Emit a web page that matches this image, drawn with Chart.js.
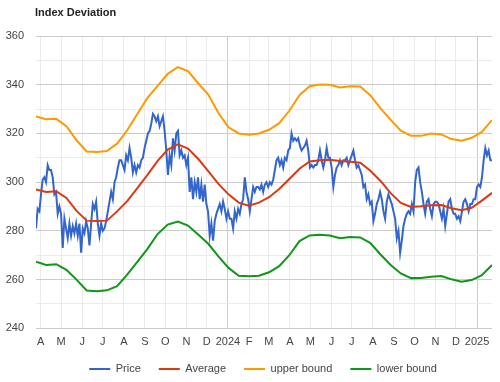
<!DOCTYPE html>
<html><head><meta charset="utf-8">
<script src="https://cdn.jsdelivr.net/npm/chart.js@4.4.1/dist/chart.umd.min.js"></script>
<style>html,body{margin:0;padding:0;background:#fff}canvas{display:block}</style>
</head><body>
<canvas id="c" width="500" height="382"></canvas>
<script>
const chartTitle = 'Index Deviation';
const startDate = '2023-03-25';
const endDate = '2025-01-23';
const tickDates = ['2023-04-01','2023-05-01','2023-06-01','2023-07-01','2023-08-01','2023-09-01','2023-10-01','2023-11-01','2023-12-01','2024-01-01','2024-02-01','2024-03-01','2024-04-01','2024-05-01','2024-06-01','2024-07-01','2024-08-01','2024-09-01','2024-10-01','2024-11-01','2024-12-01','2025-01-01'];
const tickLabels = ['A','M','J','J','A','S','O','N','D','2024','F','M','A','M','J','J','A','S','O','N','D','2025'];
const seriesNames = ['Price','Average','upper bound','lower bound'];

const price = [
281,289,288,295,301,302,300,307,305,305,302,295,296,287,290,287,273,285,281,277,
283,278,282,279,283,278,283,271,281,279,284,281,274,283,291,289,292,283,278,283,
280,281,284,288,292,296,293,300,302,306,309,309,307,305,311,309,314,310,304,307,
304,307,306,
309,310,314,317,320,321,324,328,327,325,327,323,325,327,321,313,303,311,307,318,
313,320,321,311,313,310,311,307,310,296,302,293,300,296,302,293,299,292,299,291,
288,278,283,276,284,287,289,291,288,292,289,285,288,285,
285,281,288,285,289,287,291,293,302,296,293,288,293,298,296,298,298,297,299,296,
299,300,298,300,299,301,305,309,310,307,309,306,310,309,313,314,320,317,318,317,
318,315,313,314,315,317,313,306,307,306,307,307,309,313,309,306,309,314,310,310,
306,298,303,306,307,309,307,309,309,310,307,309,311,313,309,306,307,305,303,298,
299,293,295,291,292,284,287,291,293,296,293,288,285,292,295,293,291,288,285,277,
280,271,276,282,285,287,288,287,291,288,300,305,306,300,296,291,287,292,293,289,
286,291,292,292,291,288,285,289,282,287,292,293,289,287,287,285,286,284,288,292,
293,291,288,291,291,293,293,298,299,298,302,309,314,311,313,309,309
];
const average = [
297,296,296.3,293.5,288.2,284.2,284,284.2,288,292.2,297.5,303,308.7,313.4,315.5,313.8,
309.6,304.5,299.3,295,291.6,290.3,291.6,293.8,297.2,301.3,305.5,308.5,309,309.2,308.7,
308.4,308,304.7,300.5,295.5,291.5,289.8,290.1,290.5,290.6,289.3,288.5,289.5,292.4,295.6
];
const upperBound = [
327,325.8,326,323,317.2,312.6,312.4,312.8,315.8,321.3,328,334.6,339.5,344.5,347.2,345.6,
340.6,336,328.4,322.5,320,319.5,320,321.5,324.2,329.3,335.7,339.4,340.1,340,338.9,
339.4,339.3,335.6,330.3,325.6,321.1,319,319,320,319.6,317.7,317,318.2,320.6,325.5
];
const lowerBound = [
267.3,266,266.3,264,260,255.5,255.2,255.6,257.3,262,267.3,272.6,278.7,282.6,283.8,282.2,
278.5,274.7,269.5,264.8,261.6,261.4,261.6,263,265.5,270,275.8,278.1,278.4,278.1,277,
277.5,277.3,275,270.3,266,262.5,260.6,260.7,261.2,261.5,260.1,259.1,259.8,261.8,266
];

const DAY = 86400000;
const day = d => (Date.parse(d) - Date.parse(startDate)) / DAY;
const span = day(endDate);
const spread = vals => vals.map((v, i) => ({x: i * span / (vals.length - 1), y: v}));

Chart.defaults.font.family = 'Arial, "Liberation Sans", sans-serif';
Chart.defaults.font.size = 11;
Chart.defaults.color = '#444';

const shiftBox = (box, dx, dy) => {
  const d = box.draw;
  box.draw = function () {
    const ctx = this.ctx;
    ctx.save(); ctx.translate(dx, 0);
    this.top += dy;
    d.apply(this, arguments);
    this.top -= dy;
    ctx.restore();
  };
};
const fixBoxes = {
  id: 'fixBoxes',
  beforeUpdate(chart) {
    const lg = chart.legend;
    if (lg && !lg._patched) {
      const f = lg.fit;
      lg.fit = function () { f.call(this); this.height = 26.5; };
      shiftBox(lg, 15, -10);
      lg._patched = true;
    }
    const tb = chart.titleBlock;
    if (tb && !tb._patched) { shiftBox(tb, 31, 0); tb._patched = true; }
  }
};

const mk = (label, data, color, order) => ({
  label, data: spread(data), borderColor: color, backgroundColor: color,
  borderWidth: 2, pointRadius: 0, pointHoverRadius: 0, tension: 0, order, pointStyle: 'line'
});

new Chart(document.getElementById('c'), {
  type: 'line',
  data: {
    datasets: [
      mk(seriesNames[0], price, '#3366cc', 4),
      mk(seriesNames[1], average, '#dc3912', 3),
      mk(seriesNames[2], upperBound, '#ff9900', 2),
      mk(seriesNames[3], lowerBound, '#109618', 1)
    ]
  },
  options: {
    responsive: false,
    animation: false,
    devicePixelRatio: 1,
    layout: {padding: {left: 4, right: 8, top: 0, bottom: 0}},
    plugins: {
      title: {
        display: true, text: chartTitle, align: 'start', color: '#222',
        font: {size: 11, weight: 'bold'}, padding: {top: 6, bottom: 16.8}
      },
      legend: {
        position: 'bottom',
        labels: {
          usePointStyle: true, pointStyle: 'line', pointStyleWidth: 21, boxWidth: 21,
          padding: 18, color: '#444', font: {size: 11},
          sort: (a, b) => a.datasetIndex - b.datasetIndex
        }
      },
      tooltip: {enabled: false}
    },
    scales: {
      x: {
        type: 'linear', min: 0, max: span,
        afterBuildTicks: s => { s.ticks = tickDates.map(d => ({value: day(d)})); },
        ticks: {
          autoSkip: false, maxRotation: 0, padding: 7, color: '#444',
          callback: (v, i) => tickLabels[i]
        },
        grid: {
          drawTicks: false,
          color: c => (c.index !== undefined && tickLabels[c.index] && tickLabels[c.index].length === 4) ? '#cccccc' : '#ebebeb'
        },
        border: {display: false}
      },
      y: {
        min: 240, max: 360,
        afterFit: s => { s.width = 32; },
        ticks: {stepSize: 10, padding: 12, color: '#444', callback: v => (v % 20 === 0 ? v : '')},
        grid: {drawTicks: false, color: c => (c.tick && c.tick.value % 20 === 0) ? '#cccccc' : '#ebebeb'},
        border: {display: false}
      }
    }
  },
  plugins: [fixBoxes]
});
</script>
</body></html>
